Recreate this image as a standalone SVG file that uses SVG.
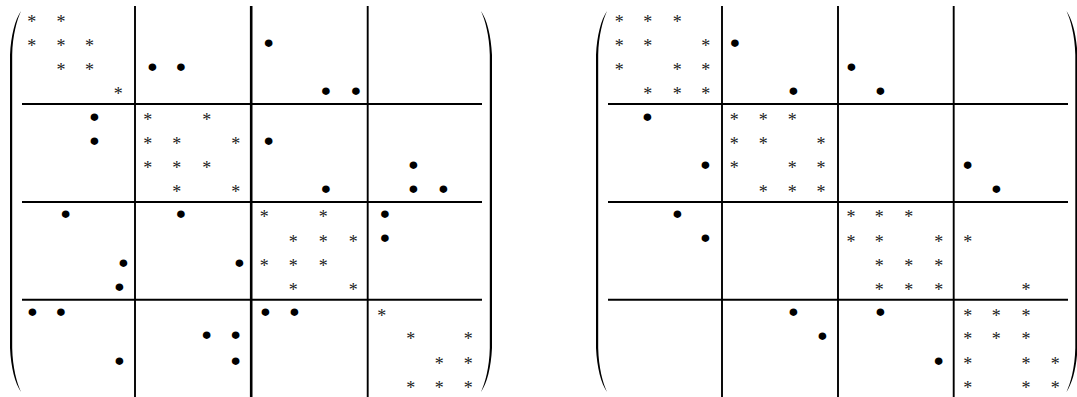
<svg xmlns="http://www.w3.org/2000/svg" width="1077" height="397" viewBox="0 0 1077 397">
<style>
.ln{stroke:#000;stroke-width:1.9;fill:none}
.lnb{stroke:#000;stroke-width:2.6;fill:none}
.a{font-family:"Liberation Serif",serif;font-size:18px;fill:#222;text-anchor:middle}
.b{font-family:"DejaVu Sans",sans-serif;font-size:20px;fill:#000;stroke:#000;stroke-width:1.8;stroke-linejoin:round;text-anchor:middle}
</style>
<defs>
<path id="paren" d="M11,0 C5,9 1,24 0,44 L0,337 C1,357 5,372 11,381 C7,372 2.6,357 2.2,337 L2.2,44 C2.6,24 7,9 11,0 Z" fill="#000"/>
</defs>
<rect width="1077" height="397" fill="#fff"/>
<g id="matrix-left">
<g id="left-parens">
<use href="#paren" transform="translate(10,11)"/>
<use href="#paren" transform="translate(492,11) scale(-1,1)"/>
</g>
<g id="left-lines">
<line class="ln" x1="135" y1="6" x2="135" y2="397"/>
<line class="lnb" x1="251.2" y1="6" x2="251.2" y2="397"/>
<line class="ln" x1="367.7" y1="6" x2="367.7" y2="397"/>
<line class="ln" x1="22" y1="104" x2="482" y2="104"/>
<line class="ln" x1="22" y1="202" x2="482" y2="202"/>
<line class="ln" x1="22" y1="299.7" x2="482" y2="299.7"/>
</g>
<g id="left-stars" transform="translate(0,9.5)">
<text class="a" x="31.7" y="18.3">*</text><text class="a" x="61" y="18.3">*</text>
<text class="a" x="31.7" y="42.3">*</text><text class="a" x="61" y="42.3">*</text><text class="a" x="89.5" y="42.3">*</text>
<text class="a" x="61" y="66">*</text><text class="a" x="89.5" y="66">*</text>
<text class="a" x="118.3" y="90.5">*</text>
<text class="a" x="147.7" y="116.8">*</text><text class="a" x="206.7" y="116.8">*</text>
<text class="a" x="147.7" y="140.7">*</text><text class="a" x="176.7" y="140.7">*</text><text class="a" x="235.7" y="140.7">*</text>
<text class="a" x="147.7" y="164.3">*</text><text class="a" x="176.7" y="164.3">*</text><text class="a" x="206.7" y="164.3">*</text>
<text class="a" x="176.7" y="188.3">*</text><text class="a" x="235.7" y="188.3">*</text>
<text class="a" x="264.3" y="213.2">*</text><text class="a" x="323.3" y="213.2">*</text>
<text class="a" x="293.3" y="238.3">*</text><text class="a" x="323.3" y="238.3">*</text><text class="a" x="353.3" y="238.3">*</text>
<text class="a" x="264.3" y="262.2">*</text><text class="a" x="293.3" y="262.2">*</text><text class="a" x="323.3" y="262.2">*</text>
<text class="a" x="293.3" y="286.6">*</text><text class="a" x="353.3" y="286.6">*</text>
<text class="a" x="381.7" y="312">*</text>
<text class="a" x="410.7" y="335.5">*</text><text class="a" x="468.3" y="335.5">*</text>
<text class="a" x="439.3" y="360.3">*</text><text class="a" x="468.3" y="360.3">*</text>
<text class="a" x="410.7" y="384">*</text><text class="a" x="439.3" y="384">*</text><text class="a" x="468.3" y="384">*</text>
</g>
<g id="left-dots" transform="translate(0,7)">
<text class="b" x="268.7" y="42.8">•</text>
<text class="b" x="152.3" y="66.7">•</text><text class="b" x="181" y="66.7">•</text>
<text class="b" x="326" y="90.7">•</text><text class="b" x="356" y="90.7">•</text>
<text class="b" x="94.3" y="116.7">•</text>
<text class="b" x="94.3" y="140.7">•</text><text class="b" x="268.7" y="140.7">•</text>
<text class="b" x="413.3" y="164.7">•</text>
<text class="b" x="326" y="188.7">•</text><text class="b" x="413.3" y="188.7">•</text><text class="b" x="443.3" y="188.7">•</text>
<text class="b" x="65.7" y="213.7">•</text><text class="b" x="181" y="213.7">•</text><text class="b" x="385" y="213.7">•</text>
<text class="b" x="385" y="238">•</text>
<text class="b" x="123.3" y="262.5">•</text><text class="b" x="239.3" y="262.5">•</text>
<text class="b" x="119.3" y="287">•</text>
<text class="b" x="32.3" y="312">•</text><text class="b" x="61" y="312">•</text><text class="b" x="265.3" y="312">•</text><text class="b" x="294.3" y="312">•</text>
<text class="b" x="206.7" y="335.3">•</text><text class="b" x="235.7" y="335.3">•</text>
<text class="b" x="119.3" y="361">•</text><text class="b" x="235.7" y="361">•</text>
</g>
</g>
<g id="matrix-right">
<g id="right-parens">
<use href="#paren" transform="translate(596,11)"/>
<use href="#paren" transform="translate(1077.5,11) scale(-1,1)"/>
</g>
<g id="right-lines">
<line class="ln" x1="722" y1="6" x2="722" y2="397"/>
<line class="ln" x1="838" y1="6" x2="838" y2="397"/>
<line class="ln" x1="953.7" y1="6" x2="953.7" y2="397"/>
<line class="ln" x1="608" y1="104" x2="1068" y2="104"/>
<line class="ln" x1="608" y1="202" x2="1068" y2="202"/>
<line class="ln" x1="608" y1="299.7" x2="1068" y2="299.7"/>
</g>
<g id="right-stars" transform="translate(0,9.5)">
<text class="a" x="619.3" y="18.3">*</text><text class="a" x="647.7" y="18.3">*</text><text class="a" x="677.3" y="18.3">*</text>
<text class="a" x="619.3" y="42.3">*</text><text class="a" x="647.7" y="42.3">*</text><text class="a" x="705.7" y="42.3">*</text>
<text class="a" x="619.3" y="66">*</text><text class="a" x="677.3" y="66">*</text><text class="a" x="705.7" y="66">*</text>
<text class="a" x="647.7" y="90.5">*</text><text class="a" x="677.3" y="90.5">*</text><text class="a" x="705.7" y="90.5">*</text>
<text class="a" x="734.3" y="116.8">*</text><text class="a" x="763.3" y="116.8">*</text><text class="a" x="792.3" y="116.8">*</text>
<text class="a" x="734.3" y="140.7">*</text><text class="a" x="763.3" y="140.7">*</text><text class="a" x="821" y="140.7">*</text>
<text class="a" x="734.3" y="164.3">*</text><text class="a" x="792.3" y="164.3">*</text><text class="a" x="821" y="164.3">*</text>
<text class="a" x="763.3" y="188.3">*</text><text class="a" x="792.3" y="188.3">*</text><text class="a" x="821" y="188.3">*</text>
<text class="a" x="851" y="213.2">*</text><text class="a" x="879.3" y="213.2">*</text><text class="a" x="908.7" y="213.2">*</text>
<text class="a" x="851" y="238.3">*</text><text class="a" x="879.3" y="238.3">*</text><text class="a" x="938.7" y="238.3">*</text><text class="a" x="967.7" y="238.3">*</text>
<text class="a" x="879.3" y="262.2">*</text><text class="a" x="908.7" y="262.2">*</text><text class="a" x="938.7" y="262.2">*</text>
<text class="a" x="879.3" y="286.6">*</text><text class="a" x="908.7" y="286.6">*</text><text class="a" x="938.7" y="286.6">*</text><text class="a" x="1026" y="286.6">*</text>
<text class="a" x="967.7" y="312">*</text><text class="a" x="996.3" y="312">*</text><text class="a" x="1026" y="312">*</text>
<text class="a" x="967.7" y="335.5">*</text><text class="a" x="996.3" y="335.5">*</text><text class="a" x="1026" y="335.5">*</text>
<text class="a" x="967.7" y="360.3">*</text><text class="a" x="1026" y="360.3">*</text><text class="a" x="1055.3" y="360.3">*</text>
<text class="a" x="967.7" y="384">*</text><text class="a" x="1026" y="384">*</text><text class="a" x="1055.3" y="384">*</text>
</g>
<g id="right-dots" transform="translate(0,7)">
<text class="b" x="735" y="42.7">•</text>
<text class="b" x="851.3" y="66.7">•</text>
<text class="b" x="793.3" y="90.5">•</text><text class="b" x="880.3" y="90.7">•</text>
<text class="b" x="647.3" y="116.7">•</text>
<text class="b" x="705.3" y="164.7">•</text><text class="b" x="967.7" y="164.7">•</text>
<text class="b" x="996.3" y="188.7">•</text>
<text class="b" x="677.3" y="213.7">•</text>
<text class="b" x="705.3" y="238">•</text>
<text class="b" x="793.3" y="312">•</text><text class="b" x="880.3" y="312">•</text>
<text class="b" x="822.3" y="335.7">•</text>
<text class="b" x="938.7" y="361">•</text>
</g>
</g>
</svg>
